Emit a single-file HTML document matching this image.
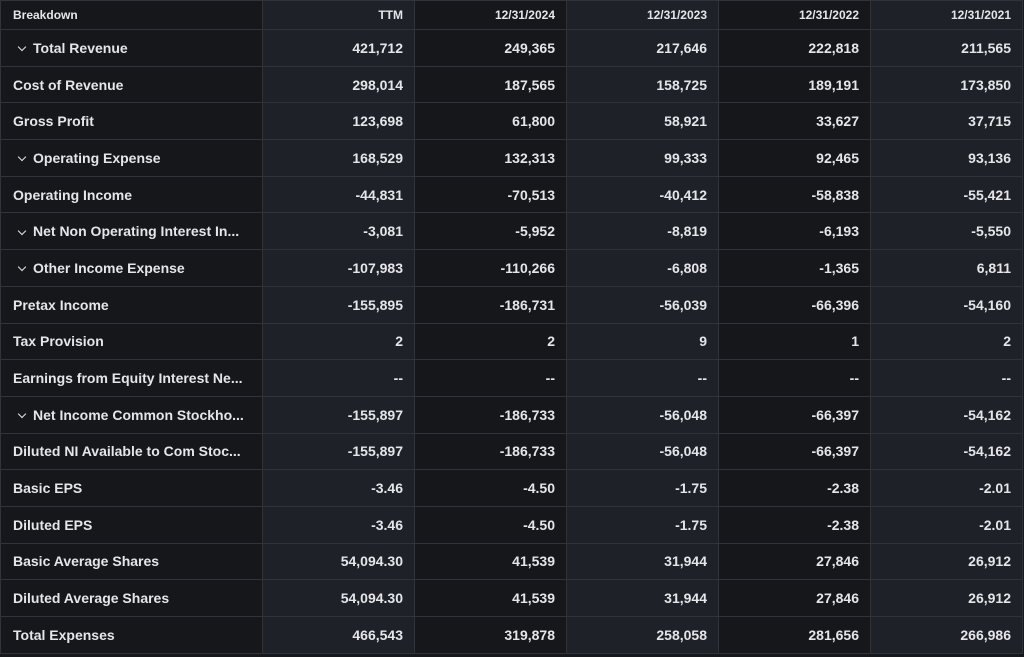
<!DOCTYPE html>
<html><head><style>
body{margin:0;background:#16181c;width:1024px;height:657px;overflow:hidden;font-family:"Liberation Sans",sans-serif;}
table{border-collapse:collapse;table-layout:fixed;position:absolute;left:0;top:0;width:1022px}
td,th{border:1px solid #30343a;color:#e4e6e8;font-weight:bold;font-size:14px;padding:0 11px 0 12px;white-space:nowrap;overflow:hidden;text-align:right;box-sizing:border-box}
tr{height:36.7px}
tr:first-child{height:29px}
th{font-size:12px;font-weight:bold}
td:first-child,th:first-child{text-align:left;background:#15171b}
td:nth-child(2),th:nth-child(2),td:nth-child(4),th:nth-child(4),td:nth-child(6),th:nth-child(6){background:#1e2128}
td:nth-child(3),th:nth-child(3),td:nth-child(5),th:nth-child(5){background:#15171b}
.c{display:inline-block;width:5px;height:5px;border-right:1.5px solid #e4e6e8;border-bottom:1.5px solid #e4e6e8;transform:rotate(45deg);margin:0 8px 4px 6px;vertical-align:middle}
</style></head><body>
<table>
<colgroup><col style="width:262px"><col style="width:152px"><col style="width:152px"><col style="width:152px"><col style="width:152px"><col style="width:152px"></colgroup>
<tr><th>Breakdown</th><th>TTM</th><th>12/31/2024</th><th>12/31/2023</th><th>12/31/2022</th><th>12/31/2021</th></tr>
<tr><td><span class="c"></span>Total Revenue</td><td>421,712</td><td>249,365</td><td>217,646</td><td>222,818</td><td>211,565</td></tr>
<tr><td>Cost of Revenue</td><td>298,014</td><td>187,565</td><td>158,725</td><td>189,191</td><td>173,850</td></tr>
<tr><td>Gross Profit</td><td>123,698</td><td>61,800</td><td>58,921</td><td>33,627</td><td>37,715</td></tr>
<tr><td><span class="c"></span>Operating Expense</td><td>168,529</td><td>132,313</td><td>99,333</td><td>92,465</td><td>93,136</td></tr>
<tr><td>Operating Income</td><td>-44,831</td><td>-70,513</td><td>-40,412</td><td>-58,838</td><td>-55,421</td></tr>
<tr><td><span class="c"></span>Net Non Operating Interest In...</td><td>-3,081</td><td>-5,952</td><td>-8,819</td><td>-6,193</td><td>-5,550</td></tr>
<tr><td><span class="c"></span>Other Income Expense</td><td>-107,983</td><td>-110,266</td><td>-6,808</td><td>-1,365</td><td>6,811</td></tr>
<tr><td>Pretax Income</td><td>-155,895</td><td>-186,731</td><td>-56,039</td><td>-66,396</td><td>-54,160</td></tr>
<tr><td>Tax Provision</td><td>2</td><td>2</td><td>9</td><td>1</td><td>2</td></tr>
<tr><td>Earnings from Equity Interest Ne...</td><td>--</td><td>--</td><td>--</td><td>--</td><td>--</td></tr>
<tr><td><span class="c"></span>Net Income Common Stockho...</td><td>-155,897</td><td>-186,733</td><td>-56,048</td><td>-66,397</td><td>-54,162</td></tr>
<tr><td>Diluted NI Available to Com Stoc...</td><td>-155,897</td><td>-186,733</td><td>-56,048</td><td>-66,397</td><td>-54,162</td></tr>
<tr><td>Basic EPS</td><td>-3.46</td><td>-4.50</td><td>-1.75</td><td>-2.38</td><td>-2.01</td></tr>
<tr><td>Diluted EPS</td><td>-3.46</td><td>-4.50</td><td>-1.75</td><td>-2.38</td><td>-2.01</td></tr>
<tr><td>Basic Average Shares</td><td>54,094.30</td><td>41,539</td><td>31,944</td><td>27,846</td><td>26,912</td></tr>
<tr><td>Diluted Average Shares</td><td>54,094.30</td><td>41,539</td><td>31,944</td><td>27,846</td><td>26,912</td></tr>
<tr><td>Total Expenses</td><td>466,543</td><td>319,878</td><td>258,058</td><td>281,656</td><td>266,986</td></tr>
</table>
</body></html>
